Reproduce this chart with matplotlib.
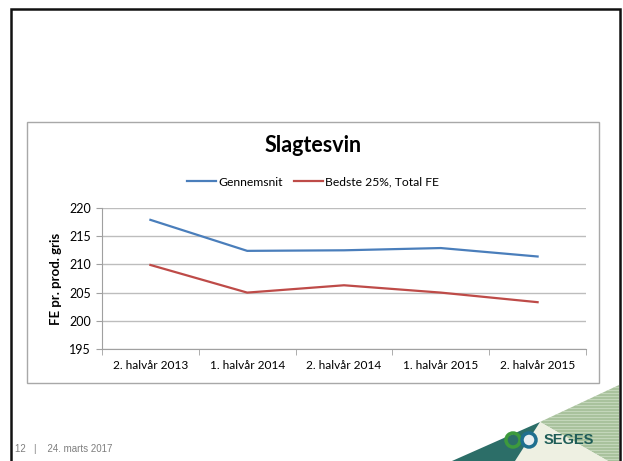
import matplotlib.pyplot as plt
from matplotlib.patches import Polygon, Rectangle, Circle

# data
categories = ['2. halvår 2013', '1. halvår 2014', '2. halvår 2014',
              '1. halvår 2015', '2. halvår 2015']
gennemsnit = [217.9, 212.4, 212.5, 212.9, 211.4]
bedste = [209.9, 205.0, 206.3, 205.0, 203.3]
yticks = [195, 200, 205, 210, 215, 220]

W, H = 623, 461
fig = plt.figure(figsize=(W / 100, H / 100), dpi=100)

# slide background in pixel coords
bg = fig.add_axes([0, 0, 1, 1])
bg.set_xlim(0, W)
bg.set_ylim(H, 0)
bg.axis('off')

# black slide frame
bg.plot([11, 11, 620, 620], [H, 9.5, 9.5, H], color='#111111', lw=1.8,
        solid_joinstyle='miter')

# chart box
bg.add_patch(Rectangle((27, 122), 572, 261, fill=False, edgecolor='#a8a8a8', lw=1))

# footer logo shapes
bg.add_patch(Polygon([(540, 422), (619, 385), (619, 461), (608, 461)],
                     closed=True, facecolor='#a9c29d', edgecolor='none'))
for yy in range(387, 461, 3):
    bg.plot([520, 619], [yy, yy], color='#c9dac0', lw=0.6, zorder=1.5,
            clip_path=bg.patches[-1])
bg.add_patch(Polygon([(540, 422), (608, 461), (515, 461)],
                     closed=True, facecolor='#eef0e2', edgecolor='none', zorder=2))
bg.add_patch(Polygon([(452, 461), (540, 422), (515, 461)],
                     closed=True, facecolor='#2c6e68', edgecolor='none', zorder=2))
bg.add_patch(Circle((513, 440), 7, facecolor='none', edgecolor='#3d9a3d', lw=2.5, zorder=3))
bg.add_patch(Circle((529, 440), 7, facecolor='#e8eef0', edgecolor='#1f6f8f', lw=2.5, zorder=3))
bg.text(544, 440, 'SEGES', fontsize=10.5, fontweight='bold', color='#1e5c57',
        family='Liberation Sans', va='center', ha='left', zorder=4)

bg.text(15, 449, '12   |    24. marts 2017', fontsize=7, color='#7f7f7f',
        family='Liberation Sans', va='center', ha='left')

# main plot
ax = fig.add_axes([102 / W, 1 - 349 / H, (586 - 102) / W, (349 - 208) / H])
x = range(len(categories))
ax.plot(x, gennemsnit, color='#4a7ebb', lw=1.6, label='Gennemsnit')
ax.plot(x, bedste, color='#be4b48', lw=1.6, label='Bedste 25%, Total FE')
ax.set_xlim(-0.5, len(categories) - 0.5)
ax.set_ylim(195, 220)
ax.set_yticks(yticks)
ax.set_xticks(x)
ax.set_xticklabels(categories, fontsize=8.6, family='Lato')
ax.set_xticks([i + 0.5 for i in range(-1, len(categories))], minor=True)
ax.tick_params(axis='x', which='major', length=0, pad=8)
ax.tick_params(axis='x', which='minor', length=4, color='#a0a0a0', direction='out')
ax.tick_params(axis='y', length=4, color='#a0a0a0', direction='out', pad=4, labelsize=9)
for lab in ax.get_yticklabels():
    lab.set_family('Lato')
ax.grid(axis='y', color='#bdbdbd', lw=1)
ax.set_axisbelow(True)
for s in ['top', 'right']:
    ax.spines[s].set_visible(False)
for s in ['left', 'bottom']:
    ax.spines[s].set_color('#a0a0a0')
ax.set_ylabel('FE pr. prod. gris', fontsize=9.5, fontweight='bold', family='Lato', labelpad=5)

fig.text(313 / W, 1 - 146 / H, 'Slagtesvin', fontsize=15.5, fontweight='bold',
         family='Lato', ha='center', va='center')
ax.legend(loc='center', bbox_to_anchor=(313 / W, 1 - 182 / H), bbox_transform=fig.transFigure,
          ncol=2, frameon=False, handlelength=2.4, handletextpad=0.2, columnspacing=0.9,
          prop={'family': 'Lato', 'size': 8.7})

fig.savefig('out.png', dpi=100)
